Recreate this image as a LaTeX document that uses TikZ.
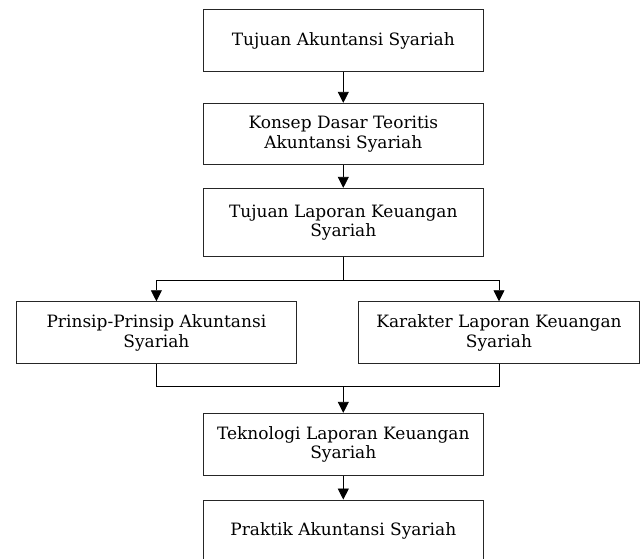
\documentclass[tikz,border=0pt]{standalone}
\usepackage{fontspec}
\setmainfont{DejaVu Serif}
\usetikzlibrary{arrows.meta}
\begin{document}
\begin{tikzpicture}[x=1pt,y=-1pt,
  box/.style={draw=black!85,line width=0.9pt,align=center,inner sep=0pt,
    font=\fontsize{17}{19.5}\selectfont},
  mainbox/.style={box,minimum width=280.3pt},
  sidebox/.style={box,minimum width=280.5pt},
  conn/.style={draw=black,line width=0.8pt},
  arr/.style={conn,-{Triangle[length=11pt,width=11pt]}}]
\clip (0,0) rectangle (641,558);
\useasboundingbox (0,0) rectangle (641,558);
\node[mainbox,minimum height=62.4pt] (b1) at (343.3,40.5) {Tujuan Akuntansi Syariah};
\node[mainbox,minimum height=61.4pt] (b2) at (343.3,134) {Konsep Dasar Teoritis\\Akuntansi Syariah};
\node[mainbox,minimum height=68.4pt] (b3) at (343.3,222.5) {Tujuan Laporan Keuangan\\Syariah};
\node[sidebox,minimum height=62pt] (bl) at (156.4,332.7) {Prinsip-Prinsip Akuntansi\\Syariah};
\node[sidebox,minimum height=62pt] (br) at (499,332.7) {Karakter Laporan Keuangan\\Syariah};
\node[mainbox,minimum height=62pt] (b4) at (343.3,444.3) {Teknologi Laporan Keuangan\\Syariah};
\node[mainbox,minimum height=62pt] (b5) at (343.3,531) {Praktik Akuntansi Syariah};
\coordinate (s1) at (343.3,280);
\coordinate (j1) at (343.3,386.7);
\draw[arr] (b1.south) -- (b2.north);
\draw[arr] (b2.south) -- (b3.north);
\draw[conn] (b3.south) -- (s1);
\draw[arr] (s1) -| (bl.north);
\draw[arr] (s1) -| (br.north);
\draw[conn] (bl.south) |- (j1);
\draw[conn] (br.south) |- (j1);
\draw[arr] (j1) -- (b4.north);
\draw[arr] (b4.south) -- (b5.north);
\end{tikzpicture}
\end{document}
